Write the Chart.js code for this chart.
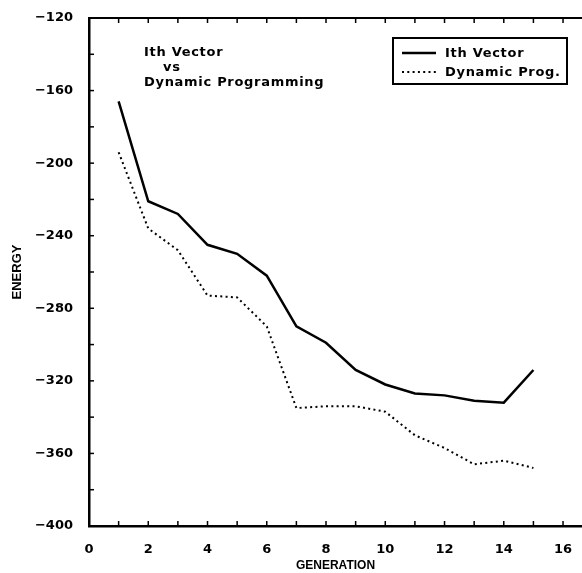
<!DOCTYPE html>
<html>
<head>
<meta charset="utf-8">
<script src="https://cdn.jsdelivr.net/npm/chart.js@4"></script>
<style>
  body { margin: 0; background: #fff; }
</style>
</head>
<body>
<canvas id="energyChart" width="582" height="573"></canvas>
<script>
// values
const generations = [1, 2, 3, 4, 5, 6, 7, 8, 9, 10, 11, 12, 13, 14, 15];
const ithVector = [-166, -221, -228, -245, -250, -262, -290, -299, -314, -322, -327, -328, -331, -332, -314];
const dynamicProg = [-194, -236, -248, -273, -274, -290, -335, -334, -334, -337, -350, -357, -366, -364, -368];
const seriesLabels = ["Ith Vector", "Dynamic Prog."];
const titleLines = ["Ith Vector", "vs", "Dynamic Programming"];

const toPoints = (vals) => vals.map((v, i) => ({ x: generations[i], y: v }));

const boldText = "bold 13px 'DejaVu Sans'";

// inward tick marks + top frame line
const frameTicks = {
  id: "frameTicks",
  afterDraw(chart) {
    const { ctx, chartArea: a, scales } = chart;
    ctx.save();
    ctx.strokeStyle = "#000";
    ctx.lineWidth = 2;
    ctx.beginPath();
    ctx.moveTo(a.left, a.top);
    ctx.lineTo(a.right, a.top);
    ctx.stroke();

    ctx.lineWidth = 1.5;
    scales.y.ticks.forEach((t) => {
      const py = scales.y.getPixelForValue(t.value);
      ctx.beginPath();
      ctx.moveTo(a.left, py);
      ctx.lineTo(a.left + 5, py);
      ctx.stroke();
    });
    scales.x.ticks.forEach((t) => {
      const px = scales.x.getPixelForValue(t.value);
      ctx.beginPath();
      ctx.moveTo(px, a.bottom);
      ctx.lineTo(px, a.bottom - 5);
      ctx.moveTo(px, a.top);
      ctx.lineTo(px, a.top + 5);
      ctx.stroke();
    });
    ctx.restore();
  }
};

// text block in upper left of plot
const plotNote = {
  id: "plotNote",
  afterDraw(chart) {
    const { ctx, chartArea: a } = chart;
    ctx.save();
    ctx.fillStyle = "#000";
    ctx.font = boldText;
    ctx.letterSpacing = "0.7px";
    ctx.textBaseline = "alphabetic";
    ctx.fillText(titleLines[0], a.left + 55, 56);
    ctx.fillText(titleLines[1], a.left + 74, 71);
    ctx.fillText(titleLines[2], a.left + 55, 86);
    ctx.restore();
  }
};

// boxed legend top right
const boxLegend = {
  id: "boxLegend",
  afterDraw(chart) {
    const { ctx, chartArea: a } = chart;
    const x0 = a.right - 189, y0 = 38, w = 174, h = 46;
    ctx.save();
    ctx.strokeStyle = "#000";
    ctx.lineWidth = 2;
    ctx.strokeRect(x0, y0, w, h);

    chart.data.datasets.forEach((ds, i) => {
      const ly = y0 + 15 + i * 19;
      ctx.lineWidth = ds.borderWidth;
      ctx.setLineDash(ds.borderDash || []);
      ctx.beginPath();
      ctx.moveTo(x0 + 9, ly);
      ctx.lineTo(x0 + 43, ly);
      ctx.stroke();
      ctx.setLineDash([]);
      ctx.fillStyle = "#000";
      ctx.font = boldText;
      ctx.letterSpacing = "0.7px";
      ctx.textBaseline = "middle";
      ctx.fillText(ds.label, x0 + 52, ly + 1);
    });
    ctx.restore();
  }
};

new Chart(document.getElementById("energyChart"), {
  type: "line",
  data: {
    datasets: [
      {
        label: seriesLabels[0],
        data: toPoints(ithVector),
        borderColor: "#000",
        borderWidth: 2.5,
        pointRadius: 0,
        tension: 0,
      },
      {
        label: seriesLabels[1],
        data: toPoints(dynamicProg),
        borderColor: "#000",
        borderWidth: 2,
        borderDash: [2, 3.3],
        pointRadius: 0,
        tension: 0,
      },
    ],
  },
  options: {
    responsive: false,
    animation: false,
    devicePixelRatio: 1,
    layout: { padding: { top: 18, right: 0, left: 0, bottom: 0 } },
    plugins: {
      legend: { display: false },
      tooltip: { enabled: false },
    },
    scales: {
      x: {
        type: "linear",
        min: 0,
        max: 16.64,
        grid: { display: true, drawOnChartArea: false, drawTicks: false },
        border: { display: true, color: "#000", width: 2.5 },
        ticks: {
          stepSize: 1,
          includeBounds: false,
          autoSkip: false,
          maxRotation: 0,
          padding: 16,
          color: "#000",
          font: { family: "DejaVu Sans", weight: "bold", size: 13 },
          callback: (v) => (v % 2 === 0 ? String(v) : ""),
        },
        title: {
          display: true,
          text: "GENERATION",
          color: "#000",
          font: { family: "Liberation Sans", weight: "bold", size: 12 },
          padding: { top: 0, bottom: 0 },
        },
        afterFit: (scale) => {
          scale.height = 47;
          scale.paddingLeft = 0;
          scale.paddingRight = 0;
        },
      },
      y: {
        min: -400,
        max: -120,
        grid: { display: true, drawOnChartArea: false, drawTicks: false },
        border: { display: true, color: "#000", width: 2.5 },
        ticks: {
          stepSize: 20,
          autoSkip: false,
          padding: 16,
          color: "#000",
          font: { family: "DejaVu Sans", weight: "bold", size: 13 },
          callback: (v) => (v % 40 === 0 ? "\u2212" + Math.abs(v) : ""),
        },
        title: {
          display: true,
          text: "ENERGY",
          color: "#000",
          font: { family: "Liberation Sans", weight: "bold", size: 13 },
          padding: { top: 10, bottom: 0 },
        },
        afterFit: (scale) => {
          scale.width = 89;
          scale.paddingTop = 0;
          scale.paddingBottom = 0;
        },
      },
    },
  },
  plugins: [frameTicks, plotNote, boxLegend],
});
</script>
</body>
</html>
